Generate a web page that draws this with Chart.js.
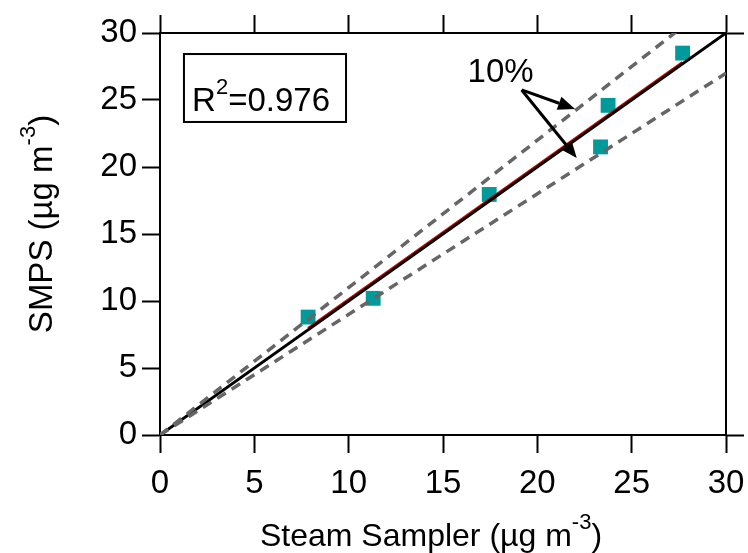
<!DOCTYPE html>
<html>
<head>
<meta charset="utf-8">
<script src="https://cdn.jsdelivr.net/npm/chart.js@4.4.1/dist/chart.umd.min.js"></script>
<style>
  body { margin: 0; background: #fff; }
</style>
</head>
<body>
<canvas id="smpsChart" width="748" height="553"></canvas>
<script>
// measured points (Steam Sampler vs SMPS)
const steamSampler = [7.85, 11.3, 17.45, 23.35, 23.75, 27.7];
const smps = [8.8, 10.2, 17.95, 21.5, 24.6, 28.5];

// reference lines
const oneToOneX = [0, 30];
const oneToOneY = [0, 30];
const fitX = [7.85, 27.7];
const fitY = [7.95, 27.8];
const upperX = [0, 30];
const upperY = [0, 33];
const lowerX = [0, 30];
const lowerY = [0, 27];

// annotations, in data units
const r2Box = { left: 1.27, right: 9.86, top: 28.43, bottom: 23.36 };
const r2Text = { x: 1.7, y: 24.2, base: 'R', sup: '2', rest: '=0.976' };
const pctLabel = { x: 16.3, y: 26.35, text: '10%' };
const arrowStart = [19.17, 25.75];
const arrowEnds = [[22.0, 24.33], [22.09, 20.67]];

const FONT = "'Liberation Sans', Arial, sans-serif";

function toPoints(xs, ys) {
    return xs.map((x, i) => ({ x: x, y: ys[i] }));
}

function drawSupText(ctx, x, y, parts, size) {
    // parts: [text, isSup]
    let cx = x;
    parts.forEach(p => {
        if (p[1]) {
            ctx.font = Math.round(size * 0.68) + 'px ' + FONT;
            ctx.fillText(p[0], cx, y - size * 0.52);
        } else {
            ctx.font = size + 'px ' + FONT;
            ctx.fillText(p[0], cx, y);
        }
        cx += ctx.measureText(p[0]).width;
    });
    return cx - x;
}

function measureSup(ctx, parts, size) {
    let w = 0;
    parts.forEach(p => {
        ctx.font = (p[1] ? Math.round(size * 0.68) : size) + 'px ' + FONT;
        w += ctx.measureText(p[0]).width;
    });
    return w;
}

function arrow(ctx, x0, y0, x1, y1) {
    const ang = Math.atan2(y1 - y0, x1 - x0);
    const headLen = 17, headW = 7;
    const bx = x1 - headLen * Math.cos(ang);
    const by = y1 - headLen * Math.sin(ang);
    ctx.beginPath();
    ctx.moveTo(x0, y0);
    ctx.lineTo(bx, by);
    ctx.stroke();
    ctx.beginPath();
    ctx.moveTo(x1, y1);
    ctx.lineTo(bx + headW * Math.sin(ang), by - headW * Math.cos(ang));
    ctx.lineTo(bx - headW * Math.sin(ang), by + headW * Math.cos(ang));
    ctx.closePath();
    ctx.fill();
}

const annotations = {
    id: 'annotations',
    afterDraw(chart) {
        const ctx = chart.ctx;
        const xs = chart.scales.x, ys = chart.scales.y;
        ctx.save();
        ctx.fillStyle = '#000';
        ctx.strokeStyle = '#000';
        ctx.textBaseline = 'alphabetic';
        ctx.textAlign = 'left';

        // R^2 box
        const bl = xs.getPixelForValue(r2Box.left), br = xs.getPixelForValue(r2Box.right);
        const bt = ys.getPixelForValue(r2Box.top), bb = ys.getPixelForValue(r2Box.bottom);
        ctx.fillStyle = '#fff';
        ctx.fillRect(bl, bt, br - bl, bb - bt);
        ctx.lineWidth = 2;
        ctx.strokeRect(bl, bt, br - bl, bb - bt);
        ctx.fillStyle = '#000';
        drawSupText(ctx, xs.getPixelForValue(r2Text.x), ys.getPixelForValue(r2Text.y),
            [[r2Text.base, false], [r2Text.sup, true], [r2Text.rest, false]], 33);

        // 10% label and arrows
        ctx.font = '33px ' + FONT;
        ctx.fillText(pctLabel.text, xs.getPixelForValue(pctLabel.x), ys.getPixelForValue(pctLabel.y));
        ctx.lineWidth = 3;
        const sx = xs.getPixelForValue(arrowStart[0]), sy = ys.getPixelForValue(arrowStart[1]);
        arrowEnds.forEach(e => arrow(ctx, sx, sy, xs.getPixelForValue(e[0]), ys.getPixelForValue(e[1])));

        // axis titles with superscripts
        const xParts = [['Steam Sampler (µg m', false], ['-3', true], [')', false]];
        const xw = measureSup(ctx, xParts, 32);
        drawSupText(ctx, 431 - xw / 2, 546, xParts, 32);

        const yParts = [['SMPS (µg m', false], ['-3', true], [')', false]];
        const yw = measureSup(ctx, yParts, 33);
        ctx.translate(52, 224);
        ctx.rotate(-Math.PI / 2);
        drawSupText(ctx, -yw / 2, 0, yParts, 33);
        ctx.restore();
    }
};

const axisCommon = {
    type: 'linear',
    min: 0,
    max: 30,
    ticks: { stepSize: 5, color: '#000', font: { family: FONT, size: 33 } },
    grid: { drawOnChartArea: false, tickLength: 18, tickColor: '#000', tickWidth: 2 },
    border: { color: '#000', width: 2 }
};

const ctx = document.getElementById('smpsChart').getContext('2d');
new Chart(ctx, {
    type: 'scatter',
    data: {
        datasets: [
            {
                label: 'upper 10%',
                data: toPoints(upperX, upperY),
                showLine: true,
                borderColor: '#666666',
                borderWidth: 3.5,
                borderDash: [10, 7],
                pointRadius: 0
            },
            {
                label: 'lower 10%',
                data: toPoints(lowerX, lowerY),
                showLine: true,
                borderColor: '#666666',
                borderWidth: 3.5,
                borderDash: [10, 7],
                pointRadius: 0
            },
            {
                label: '1:1',
                data: toPoints(oneToOneX, oneToOneY),
                showLine: true,
                borderColor: '#000',
                borderWidth: 3,
                pointRadius: 0
            },
            {
                label: 'fit',
                data: toPoints(fitX, fitY),
                showLine: true,
                borderColor: '#e00000',
                borderWidth: 3,
                pointRadius: 0
            },
            {
                label: 'SMPS vs Steam Sampler',
                data: toPoints(steamSampler, smps),
                pointStyle: 'rect',
                pointRadius: 10.5,
                backgroundColor: '#009a9a',
                borderColor: '#009a9a',
                borderWidth: 0
            }
        ]
    },
    options: {
        responsive: false,
        animation: false,
        layout: { padding: 0 },
        plugins: {
            legend: { display: false },
            tooltip: { enabled: false },
            title: { display: false }
        },
        scales: {
            x: Object.assign({}, axisCommon, {
                position: 'bottom',
                ticks: Object.assign({}, axisCommon.ticks, { padding: 11, maxRotation: 0 }),
                afterFit: s => { s.height = 118; s.paddingLeft = 0; s.paddingRight = 0; }
            }),
            x2: Object.assign({}, axisCommon, {
                axis: 'x',
                position: 'top',
                ticks: Object.assign({}, axisCommon.ticks, { display: false }),
                afterFit: s => { s.height = 33; s.paddingLeft = 0; s.paddingRight = 0; }
            }),
            y: Object.assign({}, axisCommon, {
                position: 'left',
                ticks: Object.assign({}, axisCommon.ticks, { padding: 5 }),
                afterFit: s => { s.width = 160; s.paddingTop = 0; s.paddingBottom = 0; }
            }),
            y2: Object.assign({}, axisCommon, {
                axis: 'y',
                position: 'right',
                ticks: Object.assign({}, axisCommon.ticks, { display: false }),
                grid: {
                    drawOnChartArea: false,
                    tickLength: 18,
                    tickWidth: 2,
                    tickColor: c => (c.tick && (c.tick.value === 0 || c.tick.value === 30)) ? '#000' : 'rgba(0,0,0,0)'
                },
                afterFit: s => { s.width = 22; s.paddingTop = 0; s.paddingBottom = 0; }
            })
        }
    },
    plugins: [annotations]
});
</script>
</body>
</html>
